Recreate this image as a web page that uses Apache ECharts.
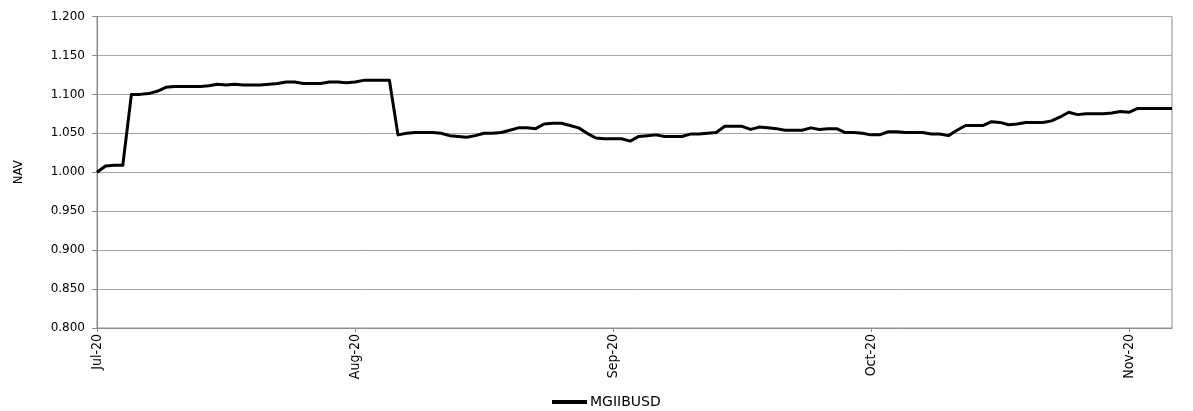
<!DOCTYPE html>
<html>
<head>
<meta charset="utf-8">
<script src="https://cdn.jsdelivr.net/npm/echarts@6/dist/echarts.min.js"></script>
<style>
html,body{margin:0;padding:0;background:#fff;}
#c{width:1193px;height:411px;}
</style>
</head>
<body>
<div id="c"></div>
<script>
const seriesName = 'MGIIBUSD';
const tickLabels = ['Jul-20', 'Aug-20', 'Sep-20', 'Oct-20', 'Nov-20'];
const tickEvery = 30;
const navValues = [
  1.000, 1.008, 1.009, 1.009, 1.100, 1.100, 1.101, 1.104, 1.109, 1.110,
  1.110, 1.110, 1.110, 1.111, 1.113, 1.112, 1.113, 1.112, 1.112, 1.112,
  1.113, 1.114, 1.116, 1.116, 1.114, 1.114, 1.114, 1.116, 1.116, 1.115,
  1.116, 1.118, 1.118, 1.118, 1.118, 1.048, 1.050, 1.051, 1.051, 1.051,
  1.050, 1.047, 1.046, 1.045, 1.047, 1.050, 1.050, 1.051, 1.054, 1.057,
  1.057, 1.056, 1.062, 1.063, 1.063, 1.060, 1.057, 1.050, 1.044, 1.043,
  1.043, 1.043, 1.040, 1.046, 1.047, 1.048, 1.046, 1.046, 1.046, 1.049,
  1.049, 1.050, 1.051, 1.059, 1.059, 1.059, 1.055, 1.058, 1.057, 1.056,
  1.054, 1.054, 1.054, 1.057, 1.055, 1.056, 1.056, 1.051, 1.051, 1.050,
  1.048, 1.048, 1.052, 1.052, 1.051, 1.051, 1.051, 1.049, 1.049, 1.047,
  1.054, 1.060, 1.060, 1.060, 1.065, 1.064, 1.061, 1.062, 1.064, 1.064,
  1.064, 1.066, 1.071, 1.077, 1.074, 1.075, 1.075, 1.075, 1.076, 1.078,
  1.077, 1.082, 1.082, 1.082, 1.082, 1.082
];
const categories = navValues.map((_, i) => 'p' + i);
const narrowFont = '"DejaVu Sans Condensed", "Liberation Sans", sans-serif';

const chart = echarts.init(document.getElementById('c'), null, {renderer: 'canvas'});
chart.setOption({
  animation: false,
  backgroundColor: '#fff',
  grid: {left: 97, right: 21, top: 16.5, bottom: 83, show: true, borderColor: '#8c8c8c', borderWidth: 1, containLabel: false},
  legend: {
    bottom: -3, left: 547,
    data: [seriesName],
    icon: 'rect', itemWidth: 35, itemHeight: 4, itemGap: 4,
    textStyle: {color: '#000', fontSize: 14, fontFamily: '"DejaVu Sans", sans-serif', padding: [0, 0, 0, -2]}
  },
  xAxis: {
    type: 'category',
    data: categories,
    boundaryGap: false,
    axisLine: {lineStyle: {color: '#8c8c8c', width: 1}},
    axisTick: {show: true, interval: tickEvery - 1, length: 4, lineStyle: {color: '#8c8c8c'}},
    axisLabel: {
      interval: tickEvery - 1, rotate: 90, margin: 6,
      color: '#000', fontSize: 14, fontFamily: narrowFont,
      formatter: (v, idx) => tickLabels[Math.round(idx / tickEvery)] || ''
    },
    splitLine: {show: false}
  },
  yAxis: {
    type: 'value',
    min: 0.8, max: 1.2, interval: 0.05,
    name: 'NAV', nameLocation: 'middle', nameGap: 72, nameRotate: 90,
    nameTextStyle: {color: '#000', fontSize: 13, fontFamily: narrowFont},
    axisLine: {show: true, lineStyle: {color: '#8c8c8c', width: 1}},
    axisTick: {show: true, length: 5, inside: false, lineStyle: {color: '#8c8c8c'}},
    axisLabel: {color: '#000', fontSize: 12, fontFamily: '"DejaVu Sans", sans-serif', margin: 12, formatter: v => v.toFixed(3)},
    splitLine: {show: true, lineStyle: {color: '#a6a6a6', width: 1}}
  },
  series: [{
    name: seriesName,
    type: 'line',
    data: navValues,
    showSymbol: false,
    symbol: 'none',
    smooth: false,
    color: '#000',
    lineStyle: {color: '#000', width: 3, join: 'round'}
  }]
});
</script>
</body>
</html>
